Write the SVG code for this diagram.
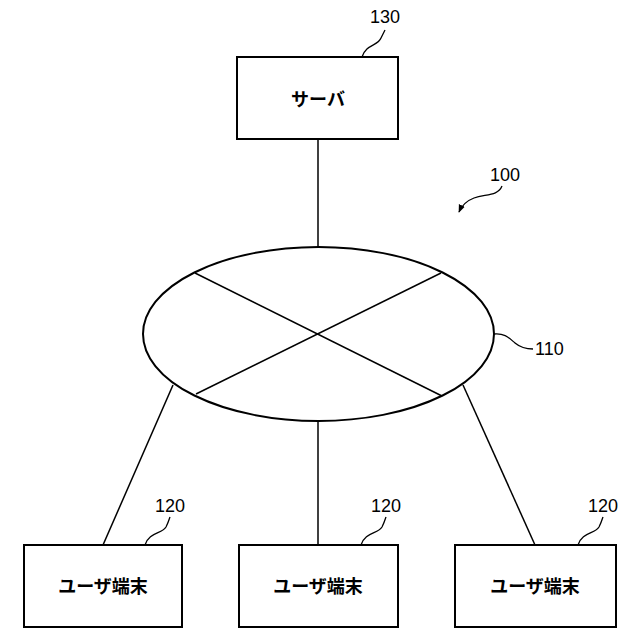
<svg xmlns="http://www.w3.org/2000/svg" width="640" height="640" viewBox="0 0 640 640">
<defs>
<style>
.box{fill:#fff;stroke:#000;stroke-width:2}
.ln{fill:none;stroke:#000;stroke-width:1.5}
.ld{fill:none;stroke:#000;stroke-width:1.3}
.lbl{font-family:"Noto Sans CJK JP","Liberation Sans",sans-serif;font-size:18px;font-weight:bold;text-anchor:middle;fill:#000}
.num{font-family:"Liberation Sans","Noto Sans",sans-serif;font-size:18px;fill:#000}
</style>
<marker id="ah" viewBox="0 0 10 10" refX="9" refY="5" markerWidth="8" markerHeight="8" orient="auto" markerUnits="userSpaceOnUse">
<path d="M0,1 L10,5 L0,9 Z" fill="#000"/>
</marker>
</defs>
<rect width="640" height="640" fill="#fff"/>
<g id="connectors">
<line class="ln" x1="318" y1="139" x2="318" y2="247"/>
<line class="ln" x1="173" y1="385" x2="103" y2="545"/>
<line class="ln" x1="318" y1="421" x2="318" y2="545"/>
<line class="ln" x1="463" y1="385" x2="535" y2="545"/>
</g>
<g id="server">
<rect class="box" x="237" y="57" width="161" height="82"/>
<text class="lbl" x="318" y="106">サーバ</text>
<path class="ld" d="M362,57 C366,44 378,46 381,38 C383,34 384,32 385,30"/>
<text class="num" x="385" y="23" text-anchor="middle">130</text>
</g>
<g id="network">
<ellipse cx="318.5" cy="334" rx="175.5" ry="87" fill="#fff" stroke="#000" stroke-width="2"/>
<line class="ln" x1="195" y1="273" x2="442" y2="396"/>
<line class="ln" x1="441" y1="273" x2="196" y2="394"/>
<path class="ld" d="M494,334 C505,333 509,338 515,343 C521,348 526,349 533,349"/>
<text class="num" x="535" y="355">110</text>
</g>
<g id="system">
<text class="num" x="505" y="181" text-anchor="middle">100</text>
<path class="ld" d="M502,186 C498,196 486,194 474,198 C466,201 462,205 459,212" marker-end="url(#ah)"/>
</g>
<g id="terminal1">
<rect class="box" x="24" y="545" width="158" height="82"/>
<text class="lbl" x="103" y="593">ユーザ端末</text>
<path class="ld" d="M145,545 C149,532 162,534 166,527 C168,523 169,520 170,517"/>
<text class="num" x="170" y="512" text-anchor="middle">120</text>
</g>
<g id="terminal2">
<rect class="box" x="239" y="545" width="159" height="82"/>
<text class="lbl" x="318" y="593">ユーザ端末</text>
<path class="ld" d="M361,545 C365,532 378,534 382,527 C384,523 385,520 386,517"/>
<text class="num" x="386" y="512" text-anchor="middle">120</text>
</g>
<g id="terminal3">
<rect class="box" x="455" y="545" width="161" height="82"/>
<text class="lbl" x="535" y="593">ユーザ端末</text>
<path class="ld" d="M578,545 C582,532 595,534 599,527 C601,523 602,520 603,517"/>
<text class="num" x="603" y="512" text-anchor="middle">120</text>
</g>
</svg>
